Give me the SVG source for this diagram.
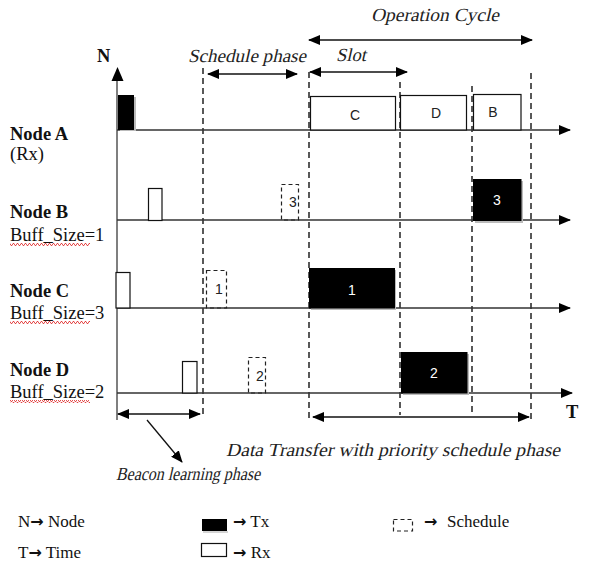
<svg xmlns="http://www.w3.org/2000/svg" width="605" height="576" viewBox="0 0 605 576">
<style>
.lbl{font-family:"Liberation Serif","Times New Roman",serif;font-size:18.5px;fill:#111}
.b{font-weight:bold}
.it{font-family:"Liberation Serif","Times New Roman",serif;font-size:18.5px;fill:#222}
.sans{font-family:"Liberation Sans",Arial,sans-serif;font-size:14px;text-anchor:middle;fill:#222}
.wt{fill:#fff}
.leg{font-family:"Liberation Serif","Times New Roman",serif;font-size:17px;fill:#111}
.ar{font-family:"DejaVu Sans",sans-serif;font-weight:bold;font-size:16px}
.tl{stroke:#333;stroke-width:1.5;fill:none}
.dash{stroke:#222;stroke-width:1.5;stroke-dasharray:6 4;fill:none}
.rx{fill:#fff;stroke:#111;stroke-width:1.2}
.tx{fill:#000;stroke:#000;stroke-width:1}
.sh{fill:#bbb}
.sch{fill:none;stroke:#222;stroke-width:1.2;stroke-dasharray:4 3}
.dim{stroke:#111;stroke-width:1.3;fill:none}
.wave{fill:url(#wv)}
</style>
<defs>
<marker id="ah" markerUnits="userSpaceOnUse" markerWidth="12" markerHeight="10" refX="11" refY="5" orient="auto-start-reverse">
<path d="M0,0 L12,5 L0,10 z" fill="#000"/>
</marker>
<pattern id="wv" width="4" height="3" patternUnits="userSpaceOnUse">
<path d="M0,2.5 L1,0.5 L2,0.5 L3,2.5 L4,2.5" fill="none" stroke="#d22" stroke-width="0.8"/>
</pattern>
</defs>

<!-- axes and phase boundaries -->
<g id="axes">
<line x1="117" y1="420" x2="117" y2="80" stroke="#555" stroke-width="1.5"/>
<path d="M111.5,81 L117.5,67 L123.5,81 z" fill="#000"/>
<text class="lbl b" x="97" y="62">N</text>
<text class="lbl b" x="566" y="418">T</text>
<line class="dash" x1="203" y1="68" x2="203" y2="418"/>
<line class="dash" x1="309" y1="72" x2="309" y2="418"/>
<line class="dash" x1="400" y1="82" x2="400" y2="415"/>
<line class="dash" x1="472" y1="86" x2="472" y2="415"/>
<line class="dash" x1="531" y1="73" x2="531" y2="420"/>
</g>

<g id="node-A">
<text class="lbl b" x="10" y="140">Node A</text>
<text class="lbl" x="10" y="160">(Rx)</text>
<line class="tl" x1="117" y1="130" x2="570" y2="130" marker-end="url(#ah)"/>
<rect class="sh" x="120" y="97" width="16" height="34"/>
<rect class="tx" x="118.5" y="95.5" width="15" height="34"/>
<rect class="rx" x="310.5" y="96.5" width="85" height="33.5"/>
<text class="sans" x="355" y="120">C</text>
<rect class="rx" x="400.5" y="95.5" width="66" height="34.5"/>
<text class="sans" x="436" y="118">D</text>
<rect class="rx" x="473.5" y="94.5" width="47.5" height="35.5"/>
<text class="sans" x="493" y="117">B</text>
</g>

<g id="node-B">
<text class="lbl b" x="10" y="218">Node B</text>
<text class="lbl" x="10" y="241">Buff_Size=1</text>
<rect class="wave" x="10" y="243" width="80" height="3"/>
<line class="tl" x1="117" y1="220" x2="570" y2="220" marker-end="url(#ah)"/>
<rect class="rx" x="148.5" y="188.5" width="13.5" height="32"/>
<rect class="sch" x="281.5" y="184.5" width="17" height="35.5"/>
<text class="sans" x="293" y="207">3</text>
<rect class="sh" x="475" y="181" width="48" height="42"/>
<rect class="tx" x="473.5" y="179.5" width="47.5" height="41"/>
<text class="sans wt" x="497" y="205">3</text>
</g>

<g id="node-C">
<text class="lbl b" x="10" y="297">Node C</text>
<text class="lbl" x="10" y="319">Buff_Size=3</text>
<rect class="wave" x="10" y="321" width="80" height="3"/>
<line class="tl" x1="117" y1="308" x2="570" y2="308" marker-end="url(#ah)"/>
<rect class="rx" x="116" y="272.5" width="14" height="35.5"/>
<rect class="sch" x="206.5" y="270.5" width="20" height="37.5"/>
<text class="sans" x="219" y="294">1</text>
<rect class="sh" x="311" y="270" width="85" height="40"/>
<rect class="tx" x="309.5" y="268.5" width="85" height="39.5"/>
<text class="sans wt" x="352" y="295">1</text>
</g>

<g id="node-D">
<text class="lbl b" x="10" y="376">Node D</text>
<text class="lbl" x="10" y="398">Buff_Size=2</text>
<rect class="wave" x="10" y="400" width="80" height="3"/>
<line class="tl" x1="117" y1="393" x2="572" y2="393" marker-end="url(#ah)"/>
<rect class="rx" x="182.5" y="361.5" width="14.5" height="31.5"/>
<rect class="sch" x="248.5" y="357.5" width="17" height="35.5"/>
<text class="sans" x="260" y="381">2</text>
<rect class="sh" x="403" y="354" width="66" height="41"/>
<rect class="tx" x="401.5" y="352.5" width="65.5" height="40.5"/>
<text class="sans wt" x="434" y="378">2</text>
</g>

<g id="connectors">
<line class="dim" x1="309" y1="40" x2="532" y2="40" marker-start="url(#ah)" marker-end="url(#ah)"/>
<line class="dim" x1="208" y1="74" x2="297" y2="74" marker-start="url(#ah)" marker-end="url(#ah)"/>
<line class="dim" x1="310" y1="72" x2="407" y2="72" marker-start="url(#ah)" marker-end="url(#ah)"/>
<line class="dim" x1="118" y1="414" x2="200" y2="414" marker-start="url(#ah)" marker-end="url(#ah)"/>
<line class="dim" x1="313" y1="417" x2="529" y2="417" marker-start="url(#ah)" marker-end="url(#ah)"/>
<line class="dim" x1="147" y1="420" x2="182" y2="462" marker-end="url(#ah)"/>
</g>

<g id="phase-labels">
<g transform="translate(371,21) skewX(-13)"><text class="it" x="0" y="0" textLength="128" lengthAdjust="spacingAndGlyphs">Operation Cycle</text></g>
<g transform="translate(188,62) skewX(-13)"><text class="it" x="0" y="0" textLength="118" lengthAdjust="spacingAndGlyphs">Schedule phase</text></g>
<g transform="translate(336,61) skewX(-13)"><text class="it" x="0" y="0" textLength="30" lengthAdjust="spacingAndGlyphs">Slot</text></g>
<g transform="translate(226,456) skewX(-13)"><text class="it" x="0" y="0" textLength="334" lengthAdjust="spacingAndGlyphs">Data Transfer with priority schedule phase</text></g>
<g transform="translate(116,480) skewX(-13)"><text class="it" x="0" y="0" textLength="144" lengthAdjust="spacingAndGlyphs">Beacon learning phase</text></g>
</g>

<g id="legend">
<text class="leg" x="18" y="527">N<tspan class="ar">→</tspan> Node</text>
<text class="leg" x="18" y="558">T<tspan class="ar">→</tspan> Time</text>
<rect x="202" y="519" width="25" height="12" fill="#000"/>
<line x1="203" y1="532" x2="228" y2="532" stroke="#aaa" stroke-width="1"/>
<text class="leg" x="233" y="527"><tspan class="ar">→</tspan> Tx</text>
<rect class="rx" x="201.5" y="543.5" width="25" height="13"/>
<text class="leg" x="233" y="558"><tspan class="ar">→</tspan> Rx</text>
<rect class="sch" x="393.5" y="519.5" width="19" height="11.5"/>
<text class="leg" x="424" y="527"><tspan class="ar">→</tspan></text>
<text class="leg" x="447" y="527">Schedule</text>
</g>
</svg>
